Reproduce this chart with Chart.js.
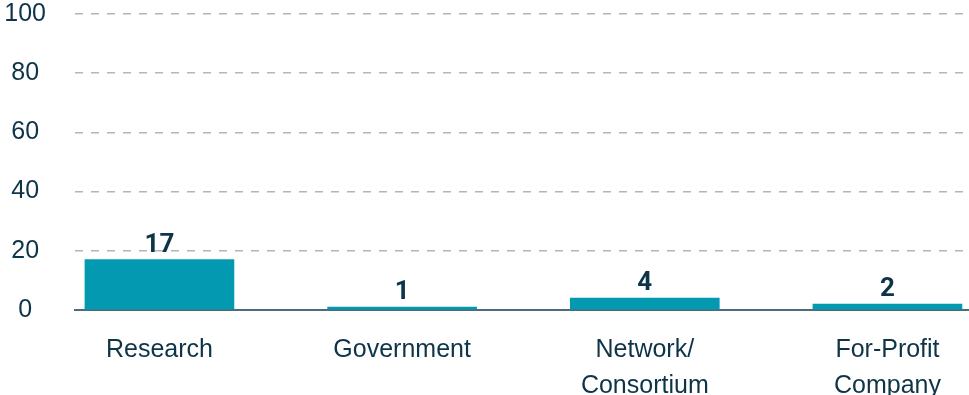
<!DOCTYPE html>
<html>
<head>
<meta charset="utf-8">
<script src="https://cdn.jsdelivr.net/npm/chart.js@4"></script>
<style>
  html, body { margin: 0; padding: 0; background: #fff; }
  #wrap { width: 969px; height: 395px; }
</style>
</head>
<body>
<div id="wrap"><canvas id="orgChart"></canvas></div>
<script>
// Organisation types and counts
const categories = [['Research'], ['Government'], ['Network/', 'Consortium'], ['For-Profit', 'Company']]
const counts = [17, 1, 4, 2]
const yTicks = [0, 20, 40, 60, 80, 100]

const barColor = '#0399b0'
const textColor = '#0e3448'

// Draws the count above each bar
const valueLabels = {
  id: 'valueLabels',
  afterDatasetsDraw(chart) {
    const { ctx } = chart
    const meta = chart.getDatasetMeta(0)
    ctx.save()
    ctx.font = '700 26px Roboto'
    ctx.fillStyle = textColor
    ctx.textAlign = 'center'
    ctx.textBaseline = 'alphabetic'
    meta.data.forEach((bar, i) => {
      ctx.fillText(String(counts[i]), bar.x, bar.y - 8)
    })
    ctx.restore()
  }
}

const ctx = document.getElementById('orgChart').getContext('2d')

new Chart(ctx, {
  type: 'bar',
  data: {
    datasets: [{
      data: counts.map((v, i) => ({ x: i, y: v })),
      backgroundColor: barColor,
      borderWidth: 0,
      barThickness: 149
    }]
  },
  options: {
    responsive: true,
    maintainAspectRatio: false,
    animation: false,
    layout: { padding: { top: 0, left: 4, right: 0, bottom: 0 } },
    plugins: {
      legend: { display: false },
      tooltip: { enabled: false }
    },
    scales: {
      x: {
        type: 'linear',
        offset: false,
        min: -0.348,
        max: 3.336,
        grid: { display: false, drawTicks: false },
        border: { display: true, color: '#4d6b78', width: 2 },
        afterFit(scale) { scale.height = 85 },
        ticks: {
          stepSize: 1,
          includeBounds: false,
          padding: 22,
          color: textColor,
          font: { family: 'Liberation Sans', size: 25, lineHeight: 1.44 },
          callback: (value) => categories[value]
        }
      },
      y: {
        min: 0,
        max: 100,
        afterBuildTicks(scale) {
          scale.ticks = yTicks.map(v => ({ value: v }))
        },
        // keep the axis narrow and the plot close to the top edge
        afterFit(scale) {
          scale.width = 71
          scale.paddingTop = 14
          scale.paddingBottom = 14
        },
        grid: {
          drawTicks: false,
          color: (c) => c.tick.value === 0 ? 'rgba(0,0,0,0)' : '#a9b8c1',
          lineWidth: 1.5
        },
        border: { display: false, dash: [8, 8] },
        ticks: {
          padding: 29,
          crossAlign: 'center',
          color: textColor,
          font: { family: 'Liberation Sans', size: 25 }
        }
      }
    }
  },
  plugins: [valueLabels]
})
</script>
</body>
</html>
